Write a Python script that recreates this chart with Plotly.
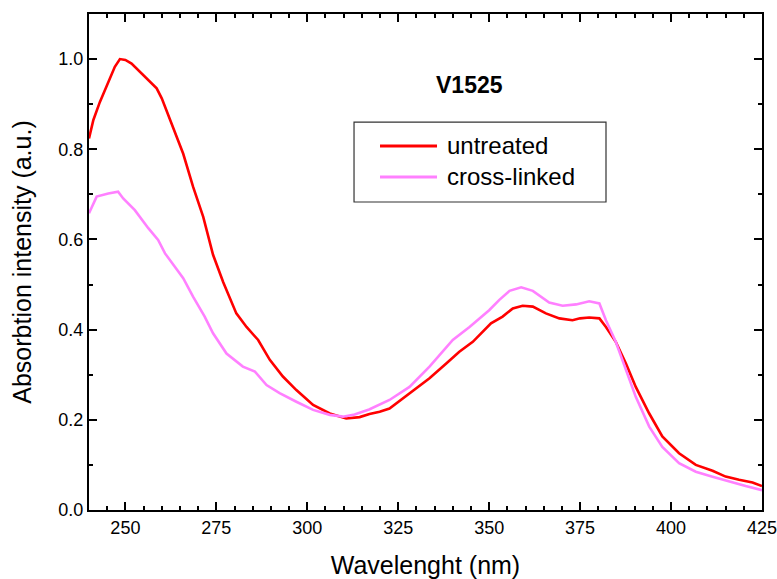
import plotly.graph_objects as go

untreated_wl = [240, 241.2, 243, 245.3, 247.1, 248.5, 250, 251.7, 255.4, 258.6, 260, 263.1, 265.9,
                268.6, 271.4, 274.1, 276.9, 280.5, 283.3, 286.5, 289.7, 293.3, 297, 301.6, 306.2,
                310.7, 314.4, 317.1, 319.9, 322.6, 328.1, 333.6, 338.2, 341.8, 345.5, 350.5, 353.7,
                356.5, 359.2, 362, 365.6, 369.3, 372.9, 375, 377.5, 380.3, 382.1, 384.8, 387.6,
                390.3, 394, 397.6, 402.2, 406.8, 411.4, 415, 418.7, 422.4, 425]
untreated_abs = [0.824, 0.865, 0.905, 0.95, 0.983, 1.0, 0.998, 0.99, 0.961, 0.935, 0.913, 0.85, 0.79,
                 0.717, 0.65, 0.566, 0.505, 0.436, 0.406, 0.377, 0.333, 0.296, 0.266, 0.233, 0.214,
                 0.203, 0.206, 0.213, 0.218, 0.225, 0.259, 0.292, 0.325, 0.351, 0.373, 0.414, 0.429,
                 0.447, 0.453, 0.451, 0.436, 0.425, 0.421, 0.425, 0.427, 0.425, 0.406, 0.373, 0.325,
                 0.273, 0.214, 0.163, 0.126, 0.100, 0.087, 0.074, 0.067, 0.061, 0.053]

crosslinked_wl = [240, 242.1, 245.3, 248, 249.4, 252.6, 256.3, 259, 260.9, 263.6, 265.9, 268.6,
                  271.8, 274.1, 277.8, 282.3, 285.6, 288.8, 292.4, 297, 301.6, 306.2, 309.8, 313,
                  317, 322.6, 328.1, 333.6, 340, 344.6, 350, 352.8, 355.6, 358.8, 362, 366.5, 370.2,
                  373.9, 377.5, 380.3, 382.1, 384.8, 387.6, 390.3, 394, 397.6, 402.2, 406.8, 411.4,
                  416, 420.5, 425]
crosslinked_abs = [0.658, 0.695, 0.702, 0.706, 0.691, 0.665, 0.625, 0.599, 0.569, 0.539, 0.514, 0.473,
                   0.429, 0.392, 0.347, 0.318, 0.307, 0.277, 0.259, 0.240, 0.222, 0.211, 0.207, 0.212,
                   0.223, 0.244, 0.273, 0.318, 0.377, 0.406, 0.443, 0.466, 0.486, 0.494, 0.486, 0.460,
                   0.453, 0.456, 0.463, 0.458, 0.421, 0.373, 0.310, 0.251, 0.185, 0.140, 0.104, 0.085,
                   0.074, 0.063, 0.053, 0.044]

series_names = ["untreated", "cross-linked"]
series_colors = ["#FF0000", "#FF80FF"]

FONT = "Arial, Liberation Sans, sans-serif"

fig = go.Figure()
fig.add_trace(go.Scatter(x=untreated_wl, y=untreated_abs, mode="lines", name=series_names[0],
                         line=dict(color=series_colors[0], width=2.6)))
fig.add_trace(go.Scatter(x=crosslinked_wl, y=crosslinked_abs, mode="lines", name=series_names[1],
                         line=dict(color=series_colors[1], width=2.6)))

axis_common = dict(
    showline=True, linecolor="black", linewidth=2, mirror="allticks",
    ticks="inside", ticklen=8, tickwidth=2, tickcolor="black",
    showgrid=False, zeroline=False, automargin=False,
    tickfont=dict(family=FONT, size=18, color="black"),
)

fig.update_xaxes(range=[240, 425], tick0=250, dtick=25, ticklabeloverflow="allow",
                 minor=dict(dtick=5, ticks="inside", ticklen=4, tickwidth=2, tickcolor="black"),
                 title=dict(text="Wavelenght (nm)", font=dict(family=FONT, size=25, color="black"),
                            standoff=26),
                 **axis_common)
fig.update_yaxes(range=[0, 1.1], tick0=0, dtick=0.2, tickformat=".1f",
                 minor=dict(dtick=0.1, ticks="inside", ticklen=4, tickwidth=2, tickcolor="black"),
                 title=dict(text="Absorbtion intensity (a.u.)", font=dict(family=FONT, size=25, color="black"),
                            standoff=20),
                 **axis_common)

fig.add_annotation(text="<b>V1525</b>", x=0.566, y=0.857, xref="paper", yref="paper",
                   xanchor="center", yanchor="middle",
                   showarrow=False, font=dict(family=FONT, size=23, color="black"))

# legend box drawn in paper coordinates
fig.add_shape(type="rect", xref="paper", yref="paper", x0=0.3938, x1=0.7682, y0=0.621, y1=0.782,
              line=dict(color="#333333", width=1.2), fillcolor="white", layer="above")
legend_rows = [0.7339, 0.6714]
for name, color, yy in zip(series_names, series_colors, legend_rows):
    fig.add_shape(type="line", xref="paper", yref="paper", x0=0.4324, x1=0.5171, y0=yy, y1=yy,
                  line=dict(color=color, width=3), layer="above")
    fig.add_annotation(text=name, x=0.5290, y=yy, xref="paper", yref="paper",
                       xanchor="left", yanchor="middle", showarrow=False,
                       font=dict(family=FONT, size=24, color="black"))

fig.update_layout(
    width=777, height=579,
    margin=dict(l=89, r=15, t=14, b=69),
    paper_bgcolor="white", plot_bgcolor="white",
    showlegend=False,
)

fig.write_html("out.html")
